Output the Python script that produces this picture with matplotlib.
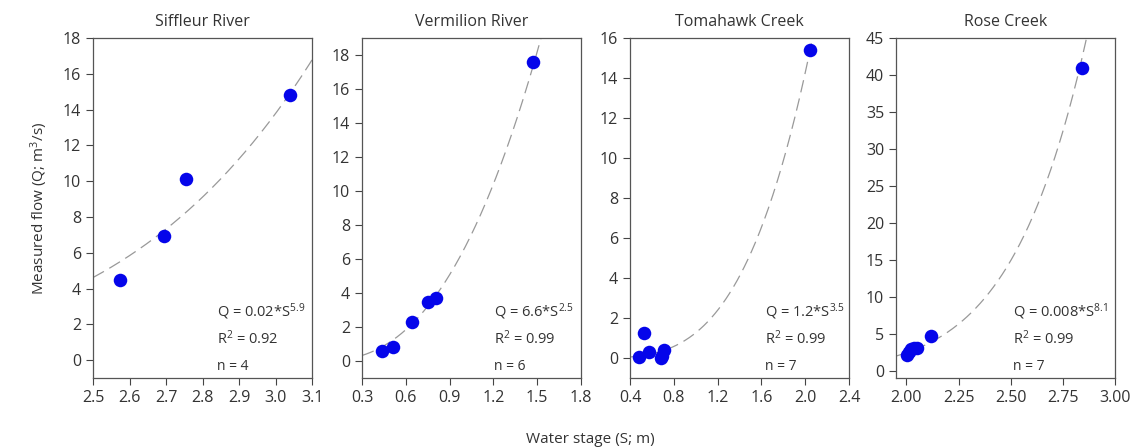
import matplotlib
matplotlib.use("Agg")
import matplotlib.pyplot as plt
import numpy as np

plt.rcParams['font.family'] = ['Open Sans', 'DejaVu Sans']
plt.rcParams['mathtext.fontset'] = 'custom'
plt.rcParams['mathtext.rm'] = 'Open Sans'
plt.rcParams['mathtext.it'] = 'Open Sans'

# Data
titles = ["Siffleur River", "Vermilion River", "Tomahawk Creek", "Rose Creek"]

siffleur_s = [2.575, 2.695, 2.755, 3.04]
siffleur_q = [4.45, 6.95, 10.1, 14.8]

vermilion_s = [0.44, 0.51, 0.645, 0.75, 0.805, 1.468]
vermilion_q = [0.58, 0.82, 2.3, 3.45, 3.7, 17.6]

tomahawk_s = [0.485, 0.53, 0.575, 0.68, 0.695, 0.715, 2.045]
tomahawk_q = [0.06, 1.23, 0.28, 0.0, 0.1, 0.42, 15.4]

rose_s = [2.005, 2.01, 2.02, 2.035, 2.05, 2.12, 2.843]
rose_q = [2.1, 2.5, 2.9, 3.0, 3.0, 4.7, 41.0]

# curve parameters (Q = a*S^b), tuned to the drawn curves
fit_a = [0.0189, 6.6, 1.26, 0.0085]
fit_b = [6.0, 2.5, 3.5, 8.15]

eq_text = [r"Q = 0.02*S$^{5.9}$", r"Q = 6.6*S$^{2.5}$",
           r"Q = 1.2*S$^{3.5}$", r"Q = 0.008*S$^{8.1}$"]
r2_text = ["0.92", "0.99", "0.99", "0.99"]
n_text = ["4", "6", "7", "7"]

xlims = [(2.5, 3.1), (0.3, 1.8), (0.4, 2.4), (1.95, 3.0)]
ylims = [(-1, 18), (-1, 19), (-1, 16), (-1, 45)]
xticks = [np.arange(2.5, 3.11, 0.1), np.arange(0.3, 1.81, 0.3),
          np.arange(0.4, 2.41, 0.4), np.arange(2.0, 3.01, 0.25)]
xfmt = ["%.1f", "%.1f", "%.1f", "%.2f"]
yticks = [np.arange(0, 19, 2), np.arange(0, 19, 2),
          np.arange(0, 17, 2), np.arange(0, 46, 5)]

all_s = [siffleur_s, vermilion_s, tomahawk_s, rose_s]
all_q = [siffleur_q, vermilion_q, tomahawk_q, rose_q]

fig = plt.figure(figsize=(11.35, 4.48), dpi=100)
W, H = 1135, 448
lefts = [93, 362, 630, 896]
top, bottom = 38, 378
width = 219
text_x = [0.565, 0.605, 0.615, 0.535]

txt_color = '#333333'
for i in range(4):
    ax = fig.add_axes([lefts[i] / W, 1 - bottom / H, width / W, (bottom - top) / H])
    xs = np.linspace(xlims[i][0], xlims[i][1], 300)
    ax.plot(xs, fit_a[i] * xs ** fit_b[i], color='#999999', lw=0.9,
            dashes=(10, 5), zorder=1)
    ax.scatter(all_s[i], all_q[i], s=95, color='#0505ea', zorder=3, linewidths=0)
    ax.set_xlim(xlims[i])
    ax.set_ylim(ylims[i])
    ax.set_xticks(xticks[i])
    ax.set_xticklabels([xfmt[i] % v for v in xticks[i]])
    ax.set_yticks(yticks[i])
    ax.tick_params(direction='out', length=5, width=0.8, colors='#444444',
                   labelsize=11.5, labelcolor=txt_color)
    for sp in ax.spines.values():
        sp.set_color('#555555')
        sp.set_linewidth(0.9)
    ax.set_title(titles[i], fontsize=11.5, color=txt_color, pad=9)
    tx = text_x[i]
    ax.text(tx, 0.195, eq_text[i], transform=ax.transAxes, fontsize=10.5,
            color=txt_color, va='center')
    ax.text(tx, 0.115, r"R$^{2}$ = " + r2_text[i], transform=ax.transAxes,
            fontsize=10.5, color=txt_color, va='center')
    ax.text(tx, 0.035, "n = " + n_text[i], transform=ax.transAxes,
            fontsize=10, color=txt_color, va='center')
    if i == 0:
        ax.set_ylabel(r"Measured flow (Q; m$^{3}$/s)", fontsize=11,
                      color=txt_color, labelpad=9)

fig.text(0.52, 0.012, "Water stage (S; m)", ha='center', fontsize=11,
         color=txt_color)

fig.savefig("out.png", dpi=100)
